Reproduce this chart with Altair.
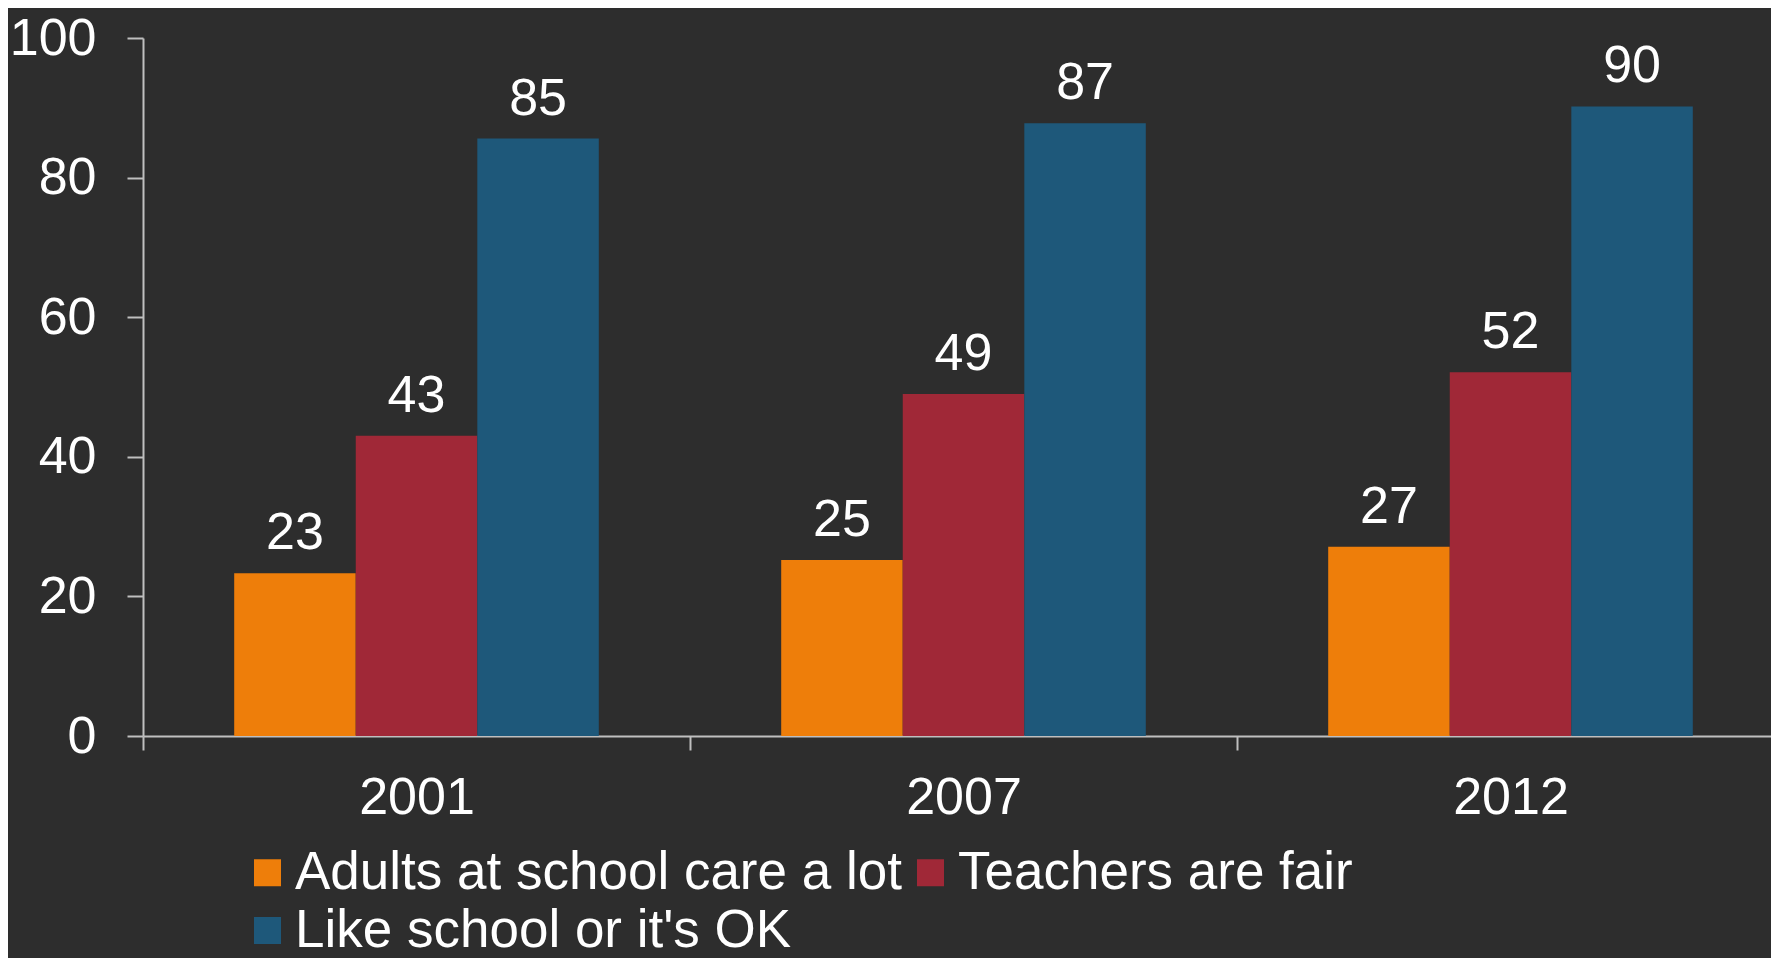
import altair as alt
import pandas as pd

years = ["2001", "2007", "2012"]
series = ["Adults at school care a lot", "Teachers are fair", "Like school or it's OK"]
adults_care = [23.3, 25.2, 27.1]
teachers_fair = [43.0, 49.0, 52.1]
like_school = [85.6, 87.8, 90.2]
colors = ["#EE7E0A", "#A02837", "#1E587A"]
y_ticks = [0, 20, 40, 60, 80, 100]

rows = []
for i, yr in enumerate(years):
    for s, vals in zip(series, [adults_care, teachers_fair, like_school]):
        rows.append({"year": yr, "series": s, "value": vals[i]})
df = pd.DataFrame(rows)

FONT = "Liberation Sans"
AX = "#bfbfbf"

xscale = alt.Scale(paddingInner=0, paddingOuter=0, range=[0, 1641])
x = alt.X("year:N", title=None, sort=years, scale=xscale,
          axis=alt.Axis(labelAngle=0, labelFontSize=52, labelColor="white", labelFont=FONT,
                        tickBand="extent", tickSize=14, tickColor=AX, tickWidth=2,
                        domainColor=AX, domainWidth=2, labelPadding=22))
xo = alt.XOffset("series:N", sort=series,
                 scale=alt.Scale(paddingInner=0, paddingOuter=0.75))
y = alt.Y("value:Q", title=None,
          scale=alt.Scale(domain=[0, 100], nice=False),
          axis=alt.Axis(values=y_ticks, grid=False, labelFontSize=52, labelColor="white",
                        labelFont=FONT, tickSize=16, tickColor=AX, tickWidth=2,
                        domainColor=AX, domainWidth=2, labelPadding=31))

base = alt.Chart(df)
bars = base.mark_bar(size=121.5).encode(
    x=x, xOffset=xo, y=y,
    color=alt.Color("series:N", sort=series,
                    scale=alt.Scale(domain=series, range=colors),
                    legend=alt.Legend(title=None, orient="none", legendX=98, legendY=808,
                                      direction="horizontal", columns=2, padding=0,
                                      symbolType="square", symbolSize=729,
                                      symbolStrokeWidth=0, symbolOpacity=1,
                                      labelFontSize=53, labelColor="white", labelFont=FONT,
                                      labelOffset=1, columnPadding=2, rowPadding=4,
                                      labelLimit=0)),
)
labels = base.transform_calculate(
    label="floor(datum.value)"
).mark_text(baseline="alphabetic", dy=-24, fontSize=52, color="white", font=FONT).encode(
    x=alt.X("year:N", sort=years, scale=xscale),
    xOffset=xo,
    y=alt.Y("value:Q"),
    text=alt.Text("label:Q", format="d"),
)

chart = alt.layer(bars, labels).properties(
    width=1628, height=698,
    autosize=alt.AutoSizeParams(type="none"),
    padding={"left": 135, "top": 30, "right": 0, "bottom": 222},
    background="#2d2d2d",
).configure_view(stroke=None)

chart.save("out.html", embed_options={"renderer": "svg", "actions": False})
